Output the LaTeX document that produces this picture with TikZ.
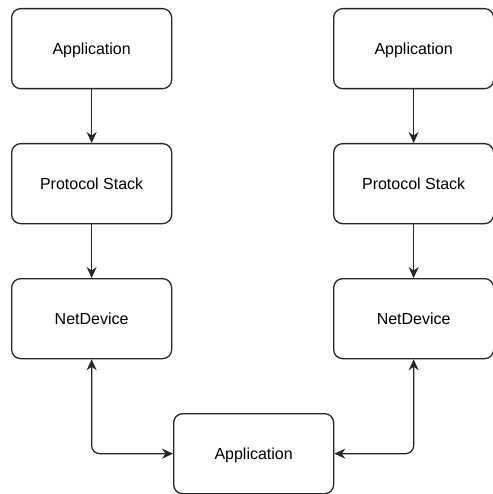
\documentclass[tikz,border=0pt]{standalone}
\usepackage{fontspec}
\setmainfont{Liberation Sans}
\usetikzlibrary{arrows.meta}
\begin{document}
\begin{tikzpicture}[x=1pt,y=-1pt,
  box/.style={draw=black!85, line width=1.3pt, rounded corners=9pt, fill=white,
    minimum width=160pt, minimum height=80pt, inner sep=0pt, text depth=-1.5pt, font=\fontsize{16}{19}\selectfont, anchor=north west},
  conn/.style={draw=black!85, line width=1.3pt, -{Stealth[length=11pt,width=10pt]}},
  biconn/.style={draw=black!85, line width=1.3pt, {Stealth[length=11pt,width=10pt]}-{Stealth[length=11pt,width=10pt]}, rounded corners=8pt}]
\useasboundingbox (0,0) rectangle (492,494);
\node[box] (app1) at (11,8) {Application};
\node[box] (ps1) at (11,143) {Protocol Stack};
\node[box] (nd1) at (11,278) {NetDevice};
\node[box] (app2) at (333,8) {Application};
\node[box] (ps2) at (333,143) {Protocol Stack};
\node[box] (nd2) at (333,278) {NetDevice};
\node[box] (app3) at (173,413) {Application};
\draw[conn] (app1) -- (ps1);
\draw[conn] (ps1) -- (nd1);
\draw[conn] (app2) -- (ps2);
\draw[conn] (ps2) -- (nd2);
\draw[biconn] (nd1.south) |- (app3.west);
\draw[biconn] (nd2.south) |- (app3.east);
\end{tikzpicture}
\end{document}
